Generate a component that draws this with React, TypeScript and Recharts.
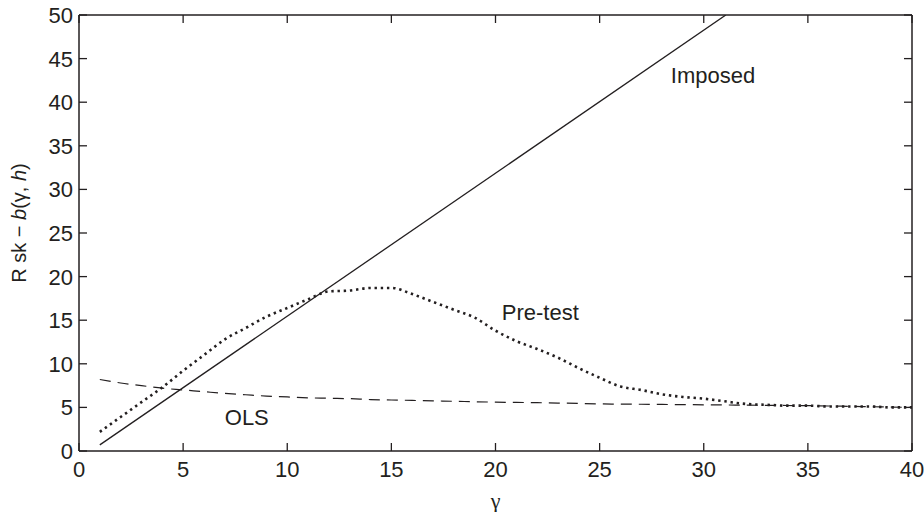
import { Label, Line, LineChart, ReferenceDot, XAxis, YAxis } from "recharts";

// gamma grid shared by the read-off series
const gammas = [1, 2, 3, 4, 5, 6, 7, 8, 9, 10, 11, 12, 13, 14, 15, 16, 17, 18, 19, 20, 21, 22, 23, 24, 25, 26, 27, 28, 29, 30, 31, 32, 33, 34, 35, 36, 37, 38, 39, 40];
const preTest = [2.2, 3.9, 5.6, 7.3, 9.2, 11.0, 12.8, 14.1, 15.4, 16.4, 17.4, 18.3, 18.4, 18.7, 18.7, 18.0, 17.1, 16.2, 15.3, 13.8, 12.6, 11.7, 10.7, 9.5, 8.4, 7.4, 7.0, 6.5, 6.2, 6.0, 5.7, 5.4, 5.3, 5.2, 5.2, 5.1, 5.1, 5.1, 5.0, 5.0];
const ols = [8.2, 7.8, 7.5, 7.2, 7.0, 6.8, 6.6, 6.45, 6.3, 6.2, 6.1, 6.05, 6.0, 5.9, 5.85, 5.8, 5.75, 5.7, 5.65, 5.6, 5.57, 5.54, 5.5, 5.45, 5.4, 5.38, 5.36, 5.34, 5.32, 5.3, 5.28, 5.26, 5.24, 5.22, 5.2, 5.16, 5.12, 5.08, 5.04, 5.0];
// imposed line: straight, read at its two ends
const imposedG = [1, 31.06];
const imposedV = [0.7, 50];

const xTicks = [0, 5, 10, 15, 20, 25, 30, 35, 40];
const yTicks = [0, 5, 10, 15, 20, 25, 30, 35, 40, 45, 50];

// text labels placed in data coordinates
const notes = [
  { g: 28.42, v: 42.2, text: "Imposed" },
  { g: 20.3, v: 15.0, text: "Pre-test" },
  { g: 7.0, v: 3.0, text: "OLS" },
];

const preTestData = gammas.map((g, i) => ({ g, v: preTest[i] }));
const olsData = gammas.map((g, i) => ({ g, v: ols[i] }));
const imposedData = imposedG.map((g, i) => ({ g, v: imposedV[i] }));

const FONT = "'Liberation Sans', Arial, Helvetica, sans-serif";
const INK = "#231f20";
const TICK = 8;

function BottomTick({ x, y, payload }: any) {
  return (
    <g>
      <line x1={x} x2={x} y1={y} y2={y - TICK} stroke={INK} strokeWidth={1.3} />
      <text x={x} y={y + 26} textAnchor="middle" fontSize={22} fontFamily={FONT} fill={INK}>
        {payload.value}
      </text>
    </g>
  );
}

function TopTick({ x, y }: any) {
  return <line x1={x} x2={x} y1={y} y2={y + TICK} stroke={INK} strokeWidth={1.3} />;
}

function LeftTick({ x, y, payload }: any) {
  return (
    <g>
      <line x1={x} x2={x + TICK} y1={y} y2={y} stroke={INK} strokeWidth={1.3} />
      <text x={x - 6} y={y + 8} textAnchor="end" fontSize={22} fontFamily={FONT} fill={INK}>
        {payload.value}
      </text>
    </g>
  );
}

function RightTick({ x, y }: any) {
  return <line x1={x} x2={x - TICK} y1={y} y2={y} stroke={INK} strokeWidth={1.3} />;
}

export default function App() {
  return (
    <div style={{ position: "absolute", left: 0, top: 0, width: 924, height: 512, background: "#fff" }}>
      <LineChart width={924} height={512} margin={{ top: 14, right: 11, left: 0, bottom: 0 }}>
        <XAxis
          dataKey="g"
          type="number"
          domain={[0, 40]}
          ticks={xTicks}
          allowDataOverflow
          height={61}
          tickSize={0}
          tickMargin={0}
          tickLine={false}
          tick={<BottomTick />}
          axisLine={{ stroke: INK, strokeWidth: 1.5 }}
        >
          <Label
            content={({ viewBox }: any) => (
              <text
                x={viewBox.x + viewBox.width / 2}
                y={viewBox.y + 57}
                textAnchor="middle"
                fontSize={22}
                fontFamily="'Liberation Serif', 'DejaVu Serif', serif"
                fill={INK}
              >
                γ
              </text>
            )}
          />
        </XAxis>
        <XAxis
          xAxisId="top"
          orientation="top"
          dataKey="g"
          type="number"
          domain={[0, 40]}
          ticks={xTicks}
          allowDataOverflow
          height={1}
          tickSize={0}
          tickMargin={0}
          tickLine={false}
          tick={<TopTick />}
          axisLine={{ stroke: INK, strokeWidth: 1.5 }}
        />
        <YAxis
          type="number"
          domain={[0, 50]}
          ticks={yTicks}
          allowDataOverflow
          width={79}
          tickSize={0}
          tickMargin={0}
          tickLine={false}
          tick={<LeftTick />}
          axisLine={{ stroke: INK, strokeWidth: 1.5 }}
        >
          <Label
            content={({ viewBox }: any) => {
              const cx = 19;
              const cy = viewBox.y + viewBox.height / 2 - 10;
              return (
                <text
                  x={cx}
                  y={cy}
                  transform={`rotate(-90 ${cx} ${cy})`}
                  textAnchor="middle"
                  dominantBaseline="central"
                  fontSize={20}
                  fontFamily={FONT}
                  fill={INK}
                >
                  R sk − <tspan fontStyle="italic">b</tspan>(γ, <tspan fontStyle="italic">h</tspan>)
                </text>
              );
            }}
          />
        </YAxis>
        <YAxis
          yAxisId="right"
          orientation="right"
          type="number"
          domain={[0, 50]}
          ticks={yTicks}
          allowDataOverflow
          width={1}
          tickSize={0}
          tickMargin={0}
          tickLine={false}
          tick={<RightTick />}
          axisLine={{ stroke: INK, strokeWidth: 1.5 }}
        />
        {/* invisible series so the top and right frame axes get drawn */}
        <Line
          data={olsData}
          dataKey="v"
          xAxisId="top"
          yAxisId="right"
          stroke="none"
          dot={false}
          activeDot={false}
          legendType="none"
          isAnimationActive={false}
        />
        <Line
          data={olsData}
          dataKey="v"
          type="monotone"
          stroke={INK}
          strokeWidth={1.2}
          strokeDasharray="11 7"
          dot={false}
          isAnimationActive={false}
        />
        <Line
          data={imposedData}
          dataKey="v"
          type="linear"
          stroke={INK}
          strokeWidth={1.3}
          dot={false}
          isAnimationActive={false}
        />
        <Line
          data={preTestData}
          dataKey="v"
          type="monotone"
          stroke={INK}
          strokeWidth={2.6}
          strokeDasharray="2.4 3.8"
          dot={false}
          isAnimationActive={false}
        />
        {notes.map((n) => (
          <ReferenceDot
            key={n.text}
            x={n.g}
            y={n.v}
            r={0}
            ifOverflow="visible"
            shape={(p: any) => (
              <text x={p.cx} y={p.cy} fontSize={22} fontFamily={FONT} fill={INK}>
                {n.text}
              </text>
            )}
          />
        ))}
      </LineChart>
    </div>
  );
}
